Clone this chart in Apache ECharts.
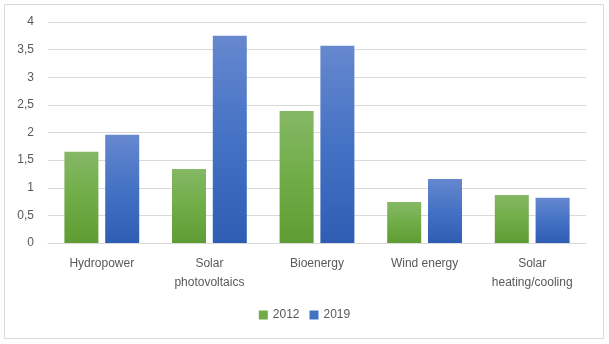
<!DOCTYPE html>
<html><head><meta charset="utf-8">
<script src="https://cdn.jsdelivr.net/npm/echarts@6/dist/echarts.min.js"></script>
<style>html,body{margin:0;padding:0;background:#fff}#c{width:609px;height:344px}</style>
</head><body><div id="c"></div>
<script>
const categories = ['Hydropower', 'Solar\nphotovoltaics', 'Bioenergy', 'Wind energy', 'Solar\nheating/cooling'];
const values2012 = [1.65, 1.34, 2.39, 0.74, 0.87];
const values2019 = [1.96, 3.75, 3.57, 1.16, 0.82];
const seriesNames = ['2012', '2019'];

const chart = echarts.init(document.getElementById('c'), null, {renderer: 'canvas'});
const grad = (a, b, c) => new echarts.graphic.LinearGradient(0, 0, 0, 1, [
  {offset: 0, color: a}, {offset: 0.5, color: b}, {offset: 1, color: c}
]);
const font = 'Liberation Sans, Arial, sans-serif';
chart.setOption({
  animation: false,
  textStyle: {fontFamily: font},
  graphic: [{type: 'rect', shape: {x: 4.5, y: 4.5, width: 599, height: 334}, style: {fill: 'none', stroke: '#d9d9d9', lineWidth: 1}, silent: true}],
  grid: {left: 48, right: 23, top: 22, bottom: 101},
  legend: {
    data: [{name: seriesNames[0], itemStyle: {color: '#70ad47'}}, {name: seriesNames[1], itemStyle: {color: '#4472c4'}}],
    bottom: 18, left: 'center', icon: 'rect', itemWidth: 9, itemHeight: 9, itemGap: 10,
    textStyle: {color: '#595959', fontSize: 12, fontFamily: font}
  },
  xAxis: {
    type: 'category', data: categories,
    axisLine: {lineStyle: {color: '#d9d9d9'}}, axisTick: {show: false},
    axisLabel: {color: '#595959', fontSize: 12, margin: 11, lineHeight: 19, interval: 0, fontFamily: font}
  },
  yAxis: {
    type: 'value', min: 0, max: 4, interval: 0.5,
    axisLine: {show: false}, axisTick: {show: false},
    splitLine: {lineStyle: {color: '#d9d9d9'}},
    axisLabel: {color: '#595959', fontSize: 12, margin: 14, fontFamily: font, formatter: v => String(v).replace('.', ',')}
  },
  series: [
    {name: seriesNames[0], type: 'bar', data: values2012, barWidth: '31.6%', barGap: '20%',
     itemStyle: {color: grad('#85b865', '#70ad47', '#5f9c33')}},
    {name: seriesNames[1], type: 'bar', data: values2019, barWidth: '31.6%',
     itemStyle: {color: grad('#6688cf', '#4472c4', '#2e5db3')}}
  ]
});
</script></body></html>
